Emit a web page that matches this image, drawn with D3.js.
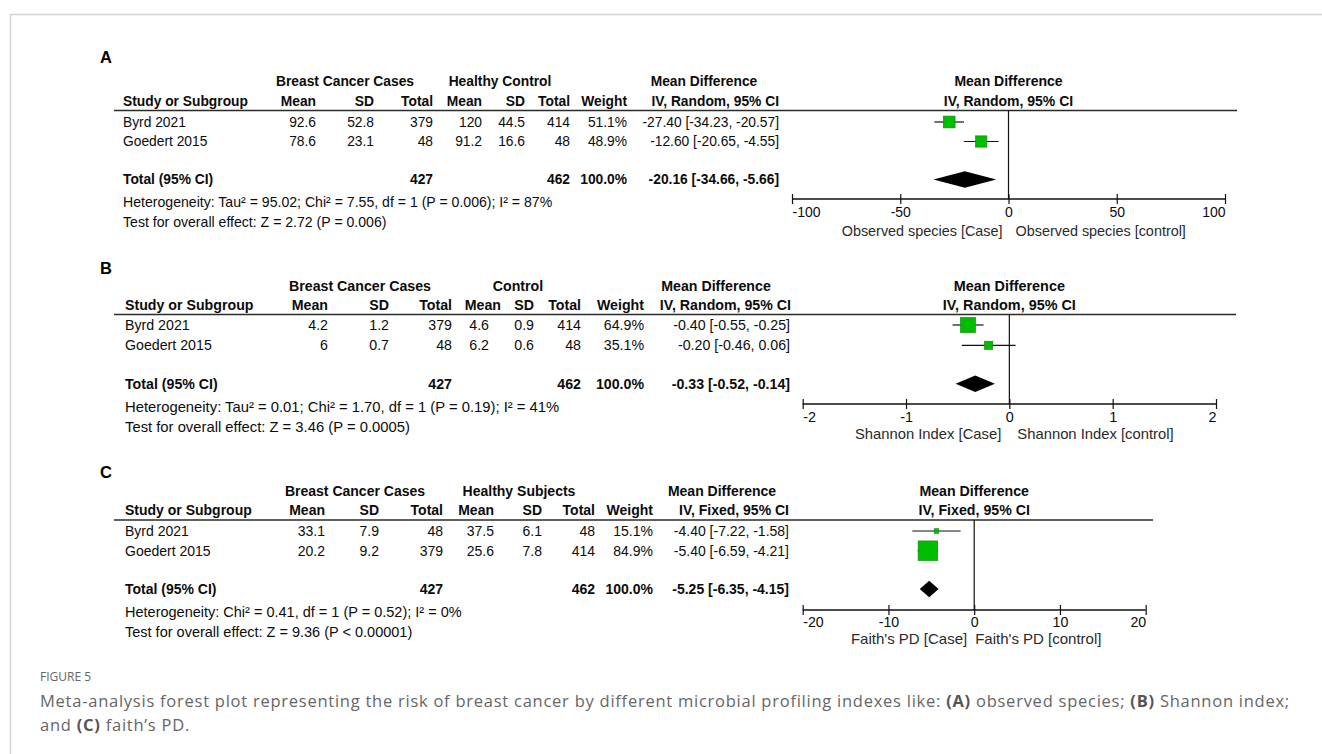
<!DOCTYPE html>
<html>
<head>
<meta charset="utf-8">
<script src="https://cdn.jsdelivr.net/npm/d3@7"></script>
<style>
  body { margin: 0; background: #fff; }
  svg { display: block; }
</style>
</head>
<body>
<svg id="fig" width="1322" height="754"></svg>
<script>
// ---------------- data ----------------
const studies = ["Byrd 2021", "Goedert 2015"];

// (A) observed species
const obsGroups = ["Breast Cancer Cases", "Healthy Control", "Mean Difference"];
const obsModel = "IV, Random, 95% CI";
const obsCaseMean = [92.6, 78.6];
const obsCaseSD = [52.8, 23.1];
const obsCaseN = [379, 48];
const obsCtrlMean = [120, 91.2];
const obsCtrlSD = [44.5, 16.6];
const obsCtrlN = [414, 48];
const obsWeight = [51.1, 48.9];
const obsMD = [-27.40, -12.60];
const obsLower = [-34.23, -20.65];
const obsUpper = [-20.57, -4.55];
const obsPooled = [-20.16, -34.66, -5.66];
const obsTicks = [-100, -50, 0, 50, 100];
const obsHet = "Heterogeneity: Tau\u00b2 = 95.02; Chi\u00b2 = 7.55, df = 1 (P = 0.006); I\u00b2 = 87%";
const obsTest = "Test for overall effect: Z = 2.72 (P = 0.006)";
const obsSides = ["Observed species [Case]", "Observed species [control]"];

// (B) Shannon index
const shanGroups = ["Breast Cancer Cases", "Control", "Mean Difference"];
const shanModel = "IV, Random, 95% CI";
const shanCaseMean = [4.2, 6];
const shanCaseSD = [1.2, 0.7];
const shanCaseN = [379, 48];
const shanCtrlMean = [4.6, 6.2];
const shanCtrlSD = [0.9, 0.6];
const shanCtrlN = [414, 48];
const shanWeight = [64.9, 35.1];
const shanMD = [-0.40, -0.20];
const shanLower = [-0.55, -0.46];
const shanUpper = [-0.25, 0.06];
const shanPooled = [-0.33, -0.52, -0.14];
const shanTicks = [-2, -1, 0, 1, 2];
const shanHet = "Heterogeneity: Tau\u00b2 = 0.01; Chi\u00b2 = 1.70, df = 1 (P = 0.19); I\u00b2 = 41%";
const shanTest = "Test for overall effect: Z = 3.46 (P = 0.0005)";
const shanSides = ["Shannon Index [Case]", "Shannon Index [control]"];

// (C) Faith's PD
const faithGroups = ["Breast Cancer Cases", "Healthy Subjects", "Mean Difference"];
const faithModel = "IV, Fixed, 95% CI";
const faithCaseMean = [33.1, 20.2];
const faithCaseSD = [7.9, 9.2];
const faithCaseN = [48, 379];
const faithCtrlMean = [37.5, 25.6];
const faithCtrlSD = [6.1, 7.8];
const faithCtrlN = [48, 414];
const faithWeight = [15.1, 84.9];
const faithMD = [-4.40, -5.40];
const faithLower = [-7.22, -6.59];
const faithUpper = [-1.58, -4.21];
const faithPooled = [-5.25, -6.35, -4.15];
const faithTicks = [-20, -10, 0, 10, 20];
const faithHet = "Heterogeneity: Chi\u00b2 = 0.41, df = 1 (P = 0.52); I\u00b2 = 0%";
const faithTest = "Test for overall effect: Z = 9.36 (P < 0.00001)";
const faithSides = ["Faith's PD [Case]", "Faith's PD [control]"];

const colHeads = ["Mean", "SD", "Total", "Mean", "SD", "Total", "Weight"];

// ---------------- layout ----------------
const panels = [
  {
    label: "A", labelY: 57, fs: 13.8, noteFs: 14.1, plotFs: 14, sideFs: 14.4,
    groups: obsGroups, model: obsModel,
    cols: [obsCaseMean, obsCaseSD, obsCaseN, obsCtrlMean, obsCtrlSD, obsCtrlN],
    weight: obsWeight, md: obsMD, lo: obsLower, hi: obsUpper, pooled: obsPooled,
    ticks: obsTicks, het: obsHet, test: obsTest, sides: obsSides,
    left: 123, hdr1: 81, hdr2: 101, rule: 110.5, ruleEnd: 1237,
    rows: [122, 141.5], total: 179.5, hetY: 202, testY: 222,
    axisY: 199, tickY: 212, sideY: 231, x0: 792, x1: 1225,
    dataX: [316, 374, 433, 482, 525, 570, 627, 779],
    headX: [316, 374, 433, 482, 525, 570, 627, 779],
    groupX: [345, 500, 704], gapL: 6, gapR: 7
  },
  {
    label: "B", labelY: 268, fs: 14.2, noteFs: 14.8, plotFs: 14.4, sideFs: 14.8,
    groups: shanGroups, model: shanModel,
    cols: [shanCaseMean, shanCaseSD, shanCaseN, shanCtrlMean, shanCtrlSD, shanCtrlN],
    weight: shanWeight, md: shanMD, lo: shanLower, hi: shanUpper, pooled: shanPooled,
    ticks: shanTicks, het: shanHet, test: shanTest, sides: shanSides,
    left: 125, hdr1: 286, hdr2: 305, rule: 314.5, ruleEnd: 1236,
    rows: [325, 345.3], total: 383.7, hetY: 407, testY: 427,
    axisY: 404, tickY: 417, sideY: 434, x0: 802.7, x1: 1216,
    dataX: [328, 389, 452, 489, 534, 581, 644, 790],
    headX: [328, 389, 452, 501, 534, 581, 644, 791],
    groupX: [360, 518, 716], gapL: 8, gapR: 8
  },
  {
    label: "C", labelY: 472, fs: 14.0, noteFs: 14.5, plotFs: 14.2, sideFs: 15,
    groups: faithGroups, model: faithModel,
    cols: [faithCaseMean, faithCaseSD, faithCaseN, faithCtrlMean, faithCtrlSD, faithCtrlN],
    weight: faithWeight, md: faithMD, lo: faithLower, hi: faithUpper, pooled: faithPooled,
    ticks: faithTicks, het: faithHet, test: faithTest, sides: faithSides,
    left: 125, hdr1: 491, hdr2: 510, rule: 520, ruleEnd: 1153,
    rows: [531, 550.7], total: 589, hetY: 612, testY: 632,
    axisY: 610, tickY: 621.7, sideY: 639, x0: 802.7, x1: 1145.7,
    dataX: [325, 379, 443, 494, 542, 595, 653, 789],
    headX: [325, 379, 443, 494, 542, 595, 653, 789],
    groupX: [355, 519, 722], gapL: 7, gapR: 1
  }
];

const FONT = "'Liberation Sans', Arial, sans-serif";
const INK = "#0c0c0c";
const svg = d3.select("#fig");

// figure frame
svg.append("path")
  .attr("d", "M10.5,754 V14.5 H1322")
  .attr("fill", "none").attr("stroke", "#d4d4d4").attr("stroke-width", 1.5);

const fmtCI = (m, l, h) => `${m.toFixed(2)} [${l.toFixed(2)}, ${h.toFixed(2)}]`;
const sideScale = d3.scaleLinear().domain([0, 100]).range([0, 23]);

function txt(g, x, y, s, opt = {}) {
  return g.append("text")
    .attr("x", x).attr("y", y).attr("dy", "0.35em")
    .attr("font-family", FONT)
    .attr("font-size", opt.fs || 14)
    .attr("font-weight", opt.bold ? "bold" : "normal")
    .attr("text-anchor", opt.anchor || "start")
    .attr("fill", opt.fill || INK)
    .text(s);
}

panels.forEach(p => {
  const g = svg.append("g");
  const fs = p.fs;

  txt(g, 100, p.labelY, p.label, { fs: 16.5, bold: true, fill: "#000" });

  // column group headers
  p.groups.forEach((t, i) => txt(g, p.groupX[i], p.hdr1, t, { fs, bold: true, anchor: "middle" }));

  txt(g, p.left, p.hdr2, "Study or Subgroup", { fs, bold: true });
  colHeads.forEach((h, i) => txt(g, p.headX[i], p.hdr2, h, { fs, bold: true, anchor: "end" }));
  txt(g, p.headX[7], p.hdr2, p.model, { fs, bold: true, anchor: "end" });

  g.append("line")
    .attr("x1", 114).attr("x2", p.ruleEnd)
    .attr("y1", p.rule).attr("y2", p.rule)
    .attr("stroke", "#2a2a2a").attr("stroke-width", 1.6);

  // study rows
  studies.forEach((s, r) => {
    const y = p.rows[r];
    txt(g, p.left, y, s, { fs });
    p.cols.forEach((col, c) => txt(g, p.dataX[c], y, String(col[r]), { fs, anchor: "end" }));
    txt(g, p.dataX[6], y, p.weight[r].toFixed(1) + "%", { fs, anchor: "end" });
    txt(g, p.dataX[7], y, fmtCI(p.md[r], p.lo[r], p.hi[r]), { fs, anchor: "end" });
  });

  // pooled row
  txt(g, p.left, p.total, "Total (95% CI)", { fs, bold: true });
  txt(g, p.dataX[2], p.total, String(d3.sum(p.cols[2])), { fs, bold: true, anchor: "end" });
  txt(g, p.dataX[5], p.total, String(d3.sum(p.cols[5])), { fs, bold: true, anchor: "end" });
  txt(g, p.dataX[6], p.total, d3.sum(p.weight).toFixed(1) + "%", { fs, bold: true, anchor: "end" });
  txt(g, p.dataX[7], p.total, fmtCI(p.pooled[0], p.pooled[1], p.pooled[2]), { fs, bold: true, anchor: "end" });

  txt(g, p.left, p.hetY, p.het, { fs: p.noteFs });
  txt(g, p.left, p.testY, p.test, { fs: p.noteFs });

  // ---- forest plot ----
  const x = d3.scaleLinear().domain(d3.extent(p.ticks)).range([p.x0, p.x1]);
  const cx = x(0);
  const mid = (p.x0 + p.x1) / 2;

  txt(g, mid, p.hdr1, p.groups[2], { fs: p.plotFs, bold: true, anchor: "middle" });
  txt(g, mid, p.hdr2, p.model, { fs: p.plotFs, bold: true, anchor: "middle" });

  // line of no effect
  g.append("line")
    .attr("x1", cx).attr("x2", cx)
    .attr("y1", p.rule).attr("y2", p.axisY)
    .attr("stroke", "#111").attr("stroke-width", 1.2);

  // axis
  const axis = d3.axisBottom(x).tickValues(p.ticks).tickSize(5).tickFormat(d3.format("d"));
  const ax = g.append("g").attr("transform", `translate(0,${p.axisY})`).call(axis);
  ax.select(".domain").attr("d", `M${p.x0},0H${p.x1}`).attr("stroke", "#111").attr("stroke-width", 1.4);
  ax.selectAll(".tick line").attr("y1", -5).attr("y2", 5).attr("stroke", "#111").attr("stroke-width", 1.2);
  ax.selectAll(".tick text")
    .attr("y", p.tickY - p.axisY).attr("dy", "0.35em")
    .attr("font-family", FONT).attr("font-size", p.plotFs).attr("fill", INK)
    .text(d => String(d))
    .attr("text-anchor", (d, i, n) => i === 0 ? "start" : (i === n.length - 1 ? "end" : "middle"));

  txt(g, cx - p.gapL, p.sideY, p.sides[0], { fs: p.sideFs, anchor: "end", fill: "#2a2a2a" });
  txt(g, cx + p.gapR, p.sideY, p.sides[1], { fs: p.sideFs, fill: "#2a2a2a" });

  // confidence intervals
  studies.forEach((s, r) => {
    g.append("line")
      .attr("x1", x(p.lo[r])).attr("x2", x(p.hi[r]))
      .attr("y1", p.rows[r]).attr("y2", p.rows[r])
      .attr("stroke", "#111").attr("stroke-width", 1.2);
  });
  // weighted squares
  studies.forEach((s, r) => {
    const side = Math.max(4.5, sideScale(p.weight[r]));
    g.append("rect")
      .attr("x", x(p.md[r]) - side / 2).attr("y", p.rows[r] - side / 2)
      .attr("width", side).attr("height", side)
      .attr("fill", "#00bd00").attr("stroke", "#168a16").attr("stroke-width", 0.7);
  });
  // pooled diamond
  const [pm, pl, ph] = p.pooled;
  const yT = p.total, h = 8.2;
  g.append("path")
    .attr("d", `M${x(pl)},${yT}L${x(pm)},${yT - h}L${x(ph)},${yT}L${x(pm)},${yT + h}Z`)
    .attr("fill", "#000");
});

// ---------------- caption ----------------
const CAP = "'Open Sans', 'Noto Sans', sans-serif";
svg.append("text").attr("x", 40).attr("y", 677).attr("dy", "0.35em")
  .attr("font-family", CAP).attr("font-size", 12).attr("fill", "#666")
  .text("FIGURE 5");

const capLines = [
  [["Meta-analysis forest plot representing the risk of breast cancer by different microbial profiling indexes like: ", false],
   ["(A)", true], [" observed species; ", false], ["(B)", true], [" Shannon index;", false]],
  [["and ", false], ["(C)", true], [" faith\u2019s PD.", false]]
];
capLines.forEach((parts, i) => {
  const t = svg.append("text").attr("x", 40).attr("y", 701 + i * 24).attr("dy", "0.35em")
    .attr("font-family", CAP).attr("font-size", 16.5).attr("letter-spacing", 0.75).attr("fill", "#666");
  parts.forEach(([s, b]) => t.append("tspan")
    .attr("font-weight", b ? "bold" : "normal")
    .attr("fill", b ? "#555" : "#666")
    .text(s));
});
</script>
</body>
</html>
